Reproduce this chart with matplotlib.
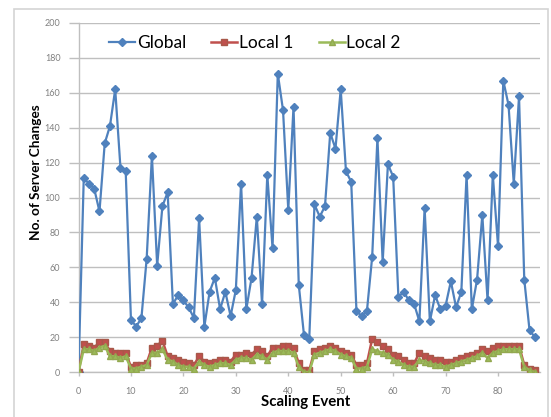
import matplotlib
matplotlib.use("Agg")
import matplotlib.pyplot as plt
from matplotlib.patches import Rectangle
import numpy as np

# Server changes per scaling event
global_changes = [0, 111, 108, 105, 92, 131, 141, 162, 117, 115,
                  30, 26, 31, 65, 124, 61, 95, 103, 39, 44,
                  41, 37, 31, 88, 26, 46, 54, 36, 46, 32,
                  47, 108, 36, 54, 89, 39, 113, 71, 171, 150,
                  93, 152, 50, 21, 19, 96, 89, 95, 137, 128,
                  162, 115, 109, 35, 32, 35, 66, 134, 63, 119,
                  112, 43, 46, 41, 39, 29, 94, 29, 44, 36,
                  38, 52, 37, 46, 113, 36, 53, 90, 41, 113,
                  72, 167, 153, 108, 158, 53, 24, 20]
local1_changes = [0, 16, 15, 14, 17, 17, 12, 11, 11, 11,
                  3, 4, 4, 5, 14, 15, 18, 9, 8, 7,
                  6, 5, 4, 9, 6, 5, 6, 7, 7, 6,
                  10, 10, 11, 10, 13, 12, 9, 14, 14, 15,
                  15, 14, 5, 1, 1, 12, 13, 14, 15, 14,
                  12, 11, 10, 4, 4, 5, 19, 17, 15, 13,
                  10, 9, 7, 5, 5, 11, 9, 8, 7, 7,
                  6, 6, 7, 8, 9, 10, 11, 13, 12, 14,
                  15, 15, 15, 15, 15, 4, 2, 1]
local2_changes = [0, 13, 13, 12, 14, 15, 9, 9, 8, 9,
                  2, 2, 3, 4, 11, 11, 13, 7, 6, 4,
                  3, 3, 2, 6, 4, 3, 4, 5, 5, 4,
                  7, 8, 8, 7, 10, 9, 7, 11, 12, 12,
                  12, 11, 3, 0, 0, 10, 11, 12, 13, 12,
                  10, 9, 8, 2, 2, 3, 13, 12, 11, 10,
                  7, 6, 4, 3, 3, 7, 6, 5, 4, 4,
                  3, 4, 5, 6, 7, 8, 9, 11, 8, 11,
                  12, 13, 13, 13, 13, 3, 1, 0]
series_names = ["Global", "Local 1", "Local 2"]
x_ticks = [0, 10, 20, 30, 40, 50, 60, 70, 80]
y_ticks = [0, 20, 40, 60, 80, 100, 120, 140, 160, 180, 200]

plt.rcParams["font.family"] = ["Lato", "DejaVu Sans"]

W, H = 551, 417
fig = plt.figure(figsize=(W / 100, H / 100), dpi=100)

# chart-area border
fig.patches.append(Rectangle((14 / W, -0.05), (548 - 14) / W, 1.05 - 9 / H,
                             transform=fig.transFigure, fill=False,
                             edgecolor="#d4d4d4", lw=1.2))

ax = fig.add_axes([78.5 / W, (H - 372) / H, (540 - 78.5) / W, (372 - 23) / H])

events = np.arange(len(global_changes))
ax.plot(events, global_changes, color="#4f81bd", lw=1.6, marker="D",
        markersize=4.2, label=series_names[0], zorder=3)
ax.plot(events, local1_changes, color="#c0504d", lw=1.8, marker="s",
        markersize=5, markerfacecolor="#c0504d", markeredgecolor="#a8584a",
        label=series_names[1], zorder=4)
ax.plot(events, local2_changes, color="#9bbb59", lw=1.8, marker="^",
        markersize=5, markerfacecolor="#9bbb59", markeredgecolor="#93a850",
        label=series_names[2], zorder=5)

ax.set_xlim(0, 88)
ax.set_ylim(0, 200)
ax.set_xticks(x_ticks)
ax.set_yticks(y_ticks)
ax.grid(axis="y", color="#bfbfbf", lw=1.0)
ax.set_axisbelow(True)
for s in ("top", "right"):
    ax.spines[s].set_visible(False)
for s in ("left", "bottom"):
    ax.spines[s].set_color("#bfbfbf")
    ax.spines[s].set_linewidth(1.0)
ax.tick_params(axis="y", length=7, width=1, color="#bfbfbf", pad=6,
               labelsize=6.5, labelcolor="#808080")
ax.tick_params(axis="x", length=3, width=1, color="#bfbfbf", pad=8,
               labelsize=6.5, labelcolor="#808080")

fig.text(36 / W, 1 - 172 / H, "No. of Server Changes", rotation=90,
         ha="center", va="center", fontsize=9.8, fontweight="bold")
fig.text(306 / W, 1 - 402 / H, "Scaling Event", ha="center", va="center",
         fontsize=10.8, fontweight="bold")

ax.legend(loc="upper left", bbox_to_anchor=(109 / W, 1 - 35 / H),
          bbox_transform=fig.transFigure, ncol=3, frameon=False,
          fontsize=12.5, handlelength=1.5, handletextpad=0.1,
          columnspacing=1.45, borderaxespad=0, borderpad=0)

fig.savefig("out.png", dpi=100)
